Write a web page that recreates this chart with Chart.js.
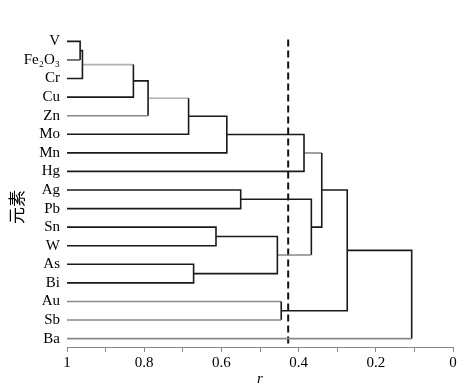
<!DOCTYPE html>
<html><head><meta charset="utf-8">
<script src="https://cdn.jsdelivr.net/npm/chart.js@4"></script>
<style>html,body{margin:0;padding:0;background:#fff}canvas{display:block}</style>
</head><body>
<canvas id="c" width="468" height="388"></canvas>
<script>
// Leaves (top to bottom)
const leaves = ['V','Fe₂O₃','Cr','Cu','Zn','Mo','Mn','Hg','Ag','Pb','Sn','W','As','Bi','Au','Sb','Ba'];
// Merges: [childA, childB, r]; node ids >= leaves.length refer to earlier merges
const mergeA = [0, 17, 18, 19, 20, 21, 22, 8, 10, 12, 25, 24, 23, 14, 29, 31];
const mergeB = [1, 2, 3, 4, 5, 6, 7, 9, 11, 13, 26, 27, 28, 15, 30, 16];
const mergeR = [0.966, 0.960, 0.828, 0.790, 0.685, 0.586, 0.386, 0.550, 0.614, 0.672, 0.455, 0.367, 0.340, 0.445, 0.274, 0.107];
const cutoff = 0.427;
const xTickValues = [1, 0.9, 0.8, 0.7, 0.6, 0.5, 0.4, 0.3, 0.2, 0.1, 0];
const xTickLabels = ['1', '', '0.8', '', '0.6', '', '0.4', '', '0.2', '', '0'];

// styles (kept apart from data): per merge [left arm, vertical, right arm]
const K = '#1a1a1a', G1 = '#555', G2 = '#888', G3 = '#b0b0b0';
const segColors = [
  [K, K, G1], [K, K, K], [G3, K, K], [K, K, G2], [G3, K, K], [K, K, K], [K, K, K],
  [K, K, K], [K, K, K], [K, K, K], [K, K, K], [K, K, G2], [G2, K, K], [G2, K, G2],
  [K, K, K], [K, K, G2]
];

const nodeY = leaves.map((_, i) => i);
const nodeR = leaves.map(() => 1);
const datasets = [];
mergeA.forEach((a, k) => {
  const b = mergeB[k], r = mergeR[k];
  const ya = nodeY[a], yb = nodeY[b];
  datasets.push({
    data: [{x: nodeR[a], y: ya}, {x: r, y: ya}, {x: r, y: yb}, {x: nodeR[b], y: yb}],
    showLine: true, pointRadius: 0, borderWidth: 1.6, tension: 0,
    borderColor: K,
    segment: {borderColor: c => segColors[k][c.p0DataIndex]}
  });
  nodeY.push((ya + yb) / 2);
  nodeR.push(r);
});
datasets.push({
  data: [{x: cutoff, y: -0.1}, {x: cutoff, y: 16.45}],
  showLine: true, pointRadius: 0, borderWidth: 2, borderColor: '#111', borderDash: [7, 4]
});

const serif = "'Liberation Serif', 'Times New Roman', serif";
new Chart(document.getElementById('c'), {
  type: 'scatter',
  data: {datasets},
  options: {
    responsive: false, animation: false,
    layout: {padding: {top: 33, right: 15, left: 0, bottom: 0}},
    plugins: {legend: {display: false}, tooltip: {enabled: false}},
    scales: {
      x: {
        type: 'linear', min: 0, max: 1, reverse: true,
        afterFit: s => { s.height = 41; },
        afterBuildTicks: s => { s.ticks = xTickValues.map(v => ({value: v})); },
        grid: {drawOnChartArea: false, drawTicks: true, tickLength: 5, color: '#888'},
        border: {display: true, color: '#888', width: 1},
        ticks: {
          padding: 2, color: '#000', font: {family: serif, size: 15}, maxRotation: 0, autoSkip: false,
          callback: (v, i) => xTickLabels[i]
        },
        title: {display: true, text: 'r', color: '#000', padding: {top: 0, bottom: 0},
          font: {family: serif, size: 15, style: 'italic'}}
      },
      y: {
        type: 'linear', min: -0.45, max: 16.45, reverse: true,
        afterFit: s => { s.width = 67; },
        afterBuildTicks: s => { s.ticks = leaves.map((_, i) => ({value: i})); },
        grid: {display: false, drawTicks: false},
        border: {display: false},
        ticks: {padding: 7, color: '#000', font: {family: serif, size: 15}, autoSkip: false,
          callback: (v, i) => leaves[i]},
        title: {display: true, text: '元素\u3000\u3000', color: '#000', padding: {top: 6, bottom: 0},
          font: {family: "'Noto Sans CJK SC', sans-serif", size: 17}}
      }
    }
  }
});
</script>
</body></html>
